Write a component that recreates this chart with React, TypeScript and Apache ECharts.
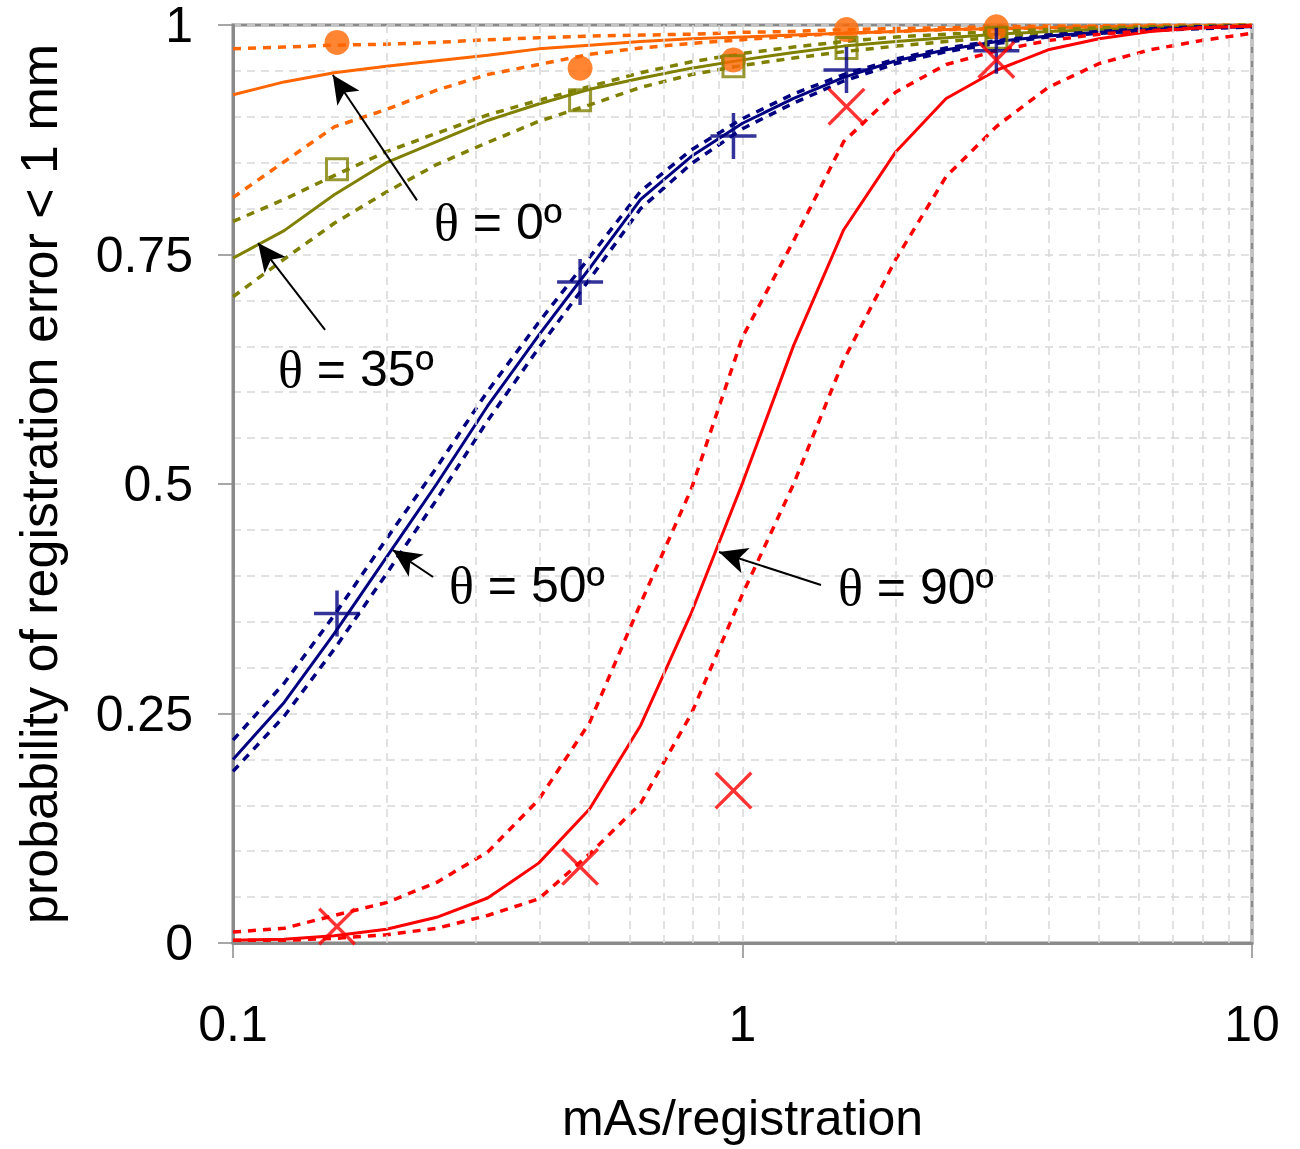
import React, { useEffect, useRef } from "react";
import * as echarts from "echarts";

// x sampling of the fitted curves (mAs/registration)
const X_GRID = [0.1, 0.126, 0.158, 0.2, 0.251, 0.316, 0.398, 0.501, 0.631, 0.794, 1, 1.26, 1.58, 2, 2.51, 3.16, 3.98, 5.01, 6.31, 7.94, 10];

// theta = 0
const O_FIT = [0.924, 0.938, 0.948, 0.955, 0.961, 0.967, 0.974, 0.978, 0.982, 0.985, 0.987, 0.989, 0.991, 0.993, 0.995, 0.996, 0.997, 0.998, 0.999, 0.999, 1.0];
const O_HI = [0.974, 0.976, 0.978, 0.979, 0.981, 0.984, 0.986, 0.988, 0.989, 0.99, 0.992, 0.993, 0.995, 0.996, 0.997, 0.998, 0.999, 0.999, 1.0, 1.0, 1.0];
const O_LO = [0.812, 0.851, 0.889, 0.908, 0.929, 0.946, 0.957, 0.968, 0.975, 0.98, 0.984, 0.988, 0.991, 0.993, 0.995, 0.996, 0.997, 0.998, 0.999, 0.999, 1.0];
// theta = 35
const G_FIT = [0.746, 0.776, 0.815, 0.85, 0.873, 0.896, 0.914, 0.93, 0.942, 0.953, 0.962, 0.97, 0.977, 0.982, 0.986, 0.99, 0.993, 0.995, 0.997, 0.998, 0.999];
const G_HI = [0.786, 0.81, 0.836, 0.862, 0.882, 0.902, 0.918, 0.933, 0.948, 0.96, 0.969, 0.976, 0.982, 0.987, 0.99, 0.993, 0.995, 0.997, 0.998, 0.999, 1.0];
const G_LO = [0.704, 0.745, 0.784, 0.818, 0.848, 0.872, 0.895, 0.913, 0.932, 0.946, 0.956, 0.964, 0.971, 0.977, 0.982, 0.987, 0.991, 0.994, 0.996, 0.998, 0.999];
// theta = 50
const B_FIT = [0.2, 0.262, 0.337, 0.42, 0.5, 0.585, 0.662, 0.735, 0.81, 0.857, 0.893, 0.92, 0.943, 0.961, 0.973, 0.982, 0.988, 0.992, 0.995, 0.997, 0.998];
const B_HI = [0.221, 0.283, 0.357, 0.44, 0.518, 0.601, 0.676, 0.747, 0.819, 0.864, 0.898, 0.925, 0.946, 0.963, 0.975, 0.983, 0.989, 0.993, 0.996, 0.998, 0.999];
const B_LO = [0.187, 0.247, 0.32, 0.402, 0.483, 0.569, 0.648, 0.723, 0.8, 0.849, 0.887, 0.915, 0.939, 0.958, 0.971, 0.98, 0.987, 0.991, 0.994, 0.996, 0.998];
// theta = 90
const R_FIT = [0.003, 0.004, 0.008, 0.015, 0.028, 0.049, 0.087, 0.146, 0.237, 0.36, 0.501, 0.651, 0.777, 0.862, 0.92, 0.951, 0.973, 0.985, 0.993, 0.997, 0.999];
const R_HI = [0.012, 0.016, 0.03, 0.044, 0.066, 0.099, 0.156, 0.24, 0.37, 0.495, 0.66, 0.765, 0.873, 0.927, 0.957, 0.972, 0.983, 0.99, 0.994, 0.997, 0.999];
const R_LO = [0.003, 0.003, 0.005, 0.009, 0.016, 0.03, 0.048, 0.097, 0.152, 0.25, 0.38, 0.5, 0.635, 0.745, 0.835, 0.89, 0.932, 0.958, 0.973, 0.983, 0.991];

// measured points
const X_PTS = [0.16, 0.48, 0.96, 1.6, 3.15];
const O_PTS = [0.981, 0.953, 0.962, 0.995, 0.998];
const G_PTS = [0.843, 0.918, 0.955, 0.975, 0.986];
const B_PTS = [0.359, 0.72, 0.879, 0.951, 0.972];
const R_PTS = [0.018, 0.083, 0.166, 0.911, 0.962];

// minor log gridlines
const MINOR_X = [0.2, 0.3, 0.4, 0.5, 0.6, 0.7, 0.8, 0.9, 2, 3, 4, 5, 6, 7, 8, 9];

// annotations: label, arrow tail [x,y], arrow tip [x,y]
const ANN_LABELS = ["0º", "35º", "50º", "90º"];
const ANN_TAIL = [[0.2297, 0.809], [0.1516, 0.668], [0.247, 0.3987], [1.426, 0.39]];
const ANN_TIP = [[0.157, 0.9455], [0.112, 0.7625], [0.206, 0.428], [0.899, 0.426]];

const ORANGE = "#FF6600";
const OLIVE = "#808000";
const NAVY = "#000080";
const RED = "#FF0000";
const SANS = "'Liberation Sans', Arial, sans-serif";
const SERIF = "'Liberation Serif', 'Times New Roman', serif";

const PLUS =
  "path://M-1.75,-23L1.75,-23L1.75,-1.75L23,-1.75L23,1.75L1.75,1.75L1.75,23L-1.75,23L-1.75,1.75L-23,1.75L-23,-1.75L-1.75,-1.75Z";
const CROSS =
  "path://M0,2.4L2.4,0L19,16.6L35.6,0L38,2.4L21.4,19L38,35.6L35.6,38L19,21.4L2.4,38L0,35.6L16.6,19Z";

const pairs = (xs: number[], ys: number[]) => xs.map((x, i) => [x, ys[i]]);

function lineSeries(name: string, ys: number[], color: string, dashed: boolean) {
  return {
    name,
    type: "line",
    data: pairs(X_GRID, ys),
    symbol: "none",
    z: 3,
    lineStyle: dashed
      ? { color, width: 3.5, type: [8, 7] }
      : { color, width: 3, type: "solid" },
    silent: true,
  };
}

export default function App() {
  const ref = useRef<HTMLDivElement>(null);
  useEffect(() => {
    if (!ref.current) return;
    const chart = echarts.init(ref.current, undefined, { renderer: "svg" });
    const gridDash = { color: "#D8D8D8", width: 1.5, type: [8, 6] };

    const annPos = [
      { x: 434, y: 222 },
      { x: 278, y: 369 },
      { x: 449, y: 585 },
      { x: 838, y: 587 },
    ];

    const option: any = {
      animation: false,
      backgroundColor: "#ffffff",
      grid: {
        left: 233,
        top: 25,
        width: 1019,
        height: 918,
        show: true,
        borderColor: "#8a8a8a",
        borderWidth: 3,
        backgroundColor: "transparent",
      },
      xAxis: {
        type: "log",
        logBase: 10,
        min: 0.1,
        max: 10,
        name: "mAs/registration",
        nameLocation: "middle",
        nameGap: 150,
        nameTextStyle: { fontFamily: SANS, fontSize: 50, color: "#000" },
        axisLine: { show: true, lineStyle: { color: "#8a8a8a", width: 3 } },
        axisTick: { show: true, length: 15, lineStyle: { color: "#8a8a8a", width: 1.5 } },
        axisLabel: { fontFamily: SANS, fontSize: 50, color: "#000", margin: 56 },
        splitLine: { show: true, lineStyle: gridDash },
        minorTick: { show: false },
        minorSplitLine: { show: false },
      },
      yAxis: {
        type: "value",
        min: 0,
        max: 1,
        interval: 0.25,
        name: "probability of registration error < 1 mm",
        nameLocation: "middle",
        nameGap: 168,
        nameTextStyle: { fontFamily: SANS, fontSize: 52, color: "#000" },
        axisLine: { show: true, lineStyle: { color: "#8a8a8a", width: 3 } },
        axisTick: { show: true, length: 15, lineStyle: { color: "#8a8a8a", width: 1.5 } },
        axisLabel: { fontFamily: SANS, fontSize: 50, lineHeight: 40, color: "#000", margin: 40 },
        splitLine: { show: true, lineStyle: gridDash },
        minorTick: { show: false, splitNumber: 5 },
        minorSplitLine: { show: true, lineStyle: gridDash },
      },
      series: [
        {
          name: "minor grid",
          type: "line",
          data: [],
          symbol: "none",
          silent: true,
          z: 1,
          markLine: {
            silent: true,
            symbol: ["none", "none"],
            label: { show: false },
            lineStyle: gridDash,
            data: MINOR_X.map((x) => ({ xAxis: x })),
          },
        },
        lineSeries("θ=0 upper", O_HI, ORANGE, true),
        lineSeries("θ=0 lower", O_LO, ORANGE, true),
        lineSeries("θ=0 fit", O_FIT, ORANGE, false),
        lineSeries("θ=35 upper", G_HI, OLIVE, true),
        lineSeries("θ=35 lower", G_LO, OLIVE, true),
        lineSeries("θ=35 fit", G_FIT, OLIVE, false),
        lineSeries("θ=50 upper", B_HI, NAVY, true),
        lineSeries("θ=50 lower", B_LO, NAVY, true),
        lineSeries("θ=50 fit", B_FIT, NAVY, false),
        lineSeries("θ=90 upper", R_HI, RED, true),
        lineSeries("θ=90 lower", R_LO, RED, true),
        lineSeries("θ=90 fit", R_FIT, RED, false),
        {
          name: "θ=0 data",
          type: "scatter",
          data: pairs(X_PTS, O_PTS),
          symbol: "circle",
          symbolSize: 25,
          itemStyle: { color: ORANGE },
          z: 5,
        },
        {
          name: "θ=35 data",
          type: "scatter",
          data: pairs(X_PTS, G_PTS),
          symbol: "rect",
          symbolSize: 21,
          itemStyle: { color: "rgba(0,0,0,0)", borderColor: OLIVE, borderWidth: 3 },
          z: 5,
        },
        {
          name: "θ=50 data",
          type: "scatter",
          data: pairs(X_PTS, B_PTS),
          symbol: PLUS,
          symbolSize: 46,
          itemStyle: { color: NAVY },
          z: 5,
        },
        {
          name: "θ=90 data",
          type: "scatter",
          data: pairs(X_PTS, R_PTS),
          symbol: CROSS,
          symbolSize: 38,
          itemStyle: { color: RED },
          z: 5,
        },
        {
          name: "arrows",
          type: "line",
          data: [],
          symbol: "none",
          silent: true,
          z: 6,
          markLine: {
            silent: true,
            symbol: ["none", "arrow"],
            symbolSize: [20, 28],
            label: { show: false },
            lineStyle: { color: "#000", width: 2, type: "solid" },
            itemStyle: { color: "#000" },
            data: ANN_TAIL.map((t, i) => [
              { coord: t, itemStyle: { color: "#000" } },
              { coord: ANN_TIP[i], itemStyle: { color: "#000" } },
            ]),
          },
        },
      ],
      graphic: ANN_LABELS.map((lab, i) => ({
        type: "text",
        x: annPos[i].x,
        y: annPos[i].y,
        z: 100,
        style: {
          text: "{t|θ}{n| = " + lab + "}",
          verticalAlign: "middle",
          align: "left",
          fill: "#000",
          rich: {
            t: { fontFamily: SERIF, fontSize: 52, fill: "#000" },
            n: { fontFamily: SANS, fontSize: 50, fill: "#000" },
          },
        },
      })),
    };
    chart.setOption(option);
    return () => chart.dispose();
  }, []);
  return (
    <div
      ref={ref}
      style={{ position: "absolute", left: 0, top: 0, width: 1300, height: 1149, background: "#fff" }}
    />
  );
}
